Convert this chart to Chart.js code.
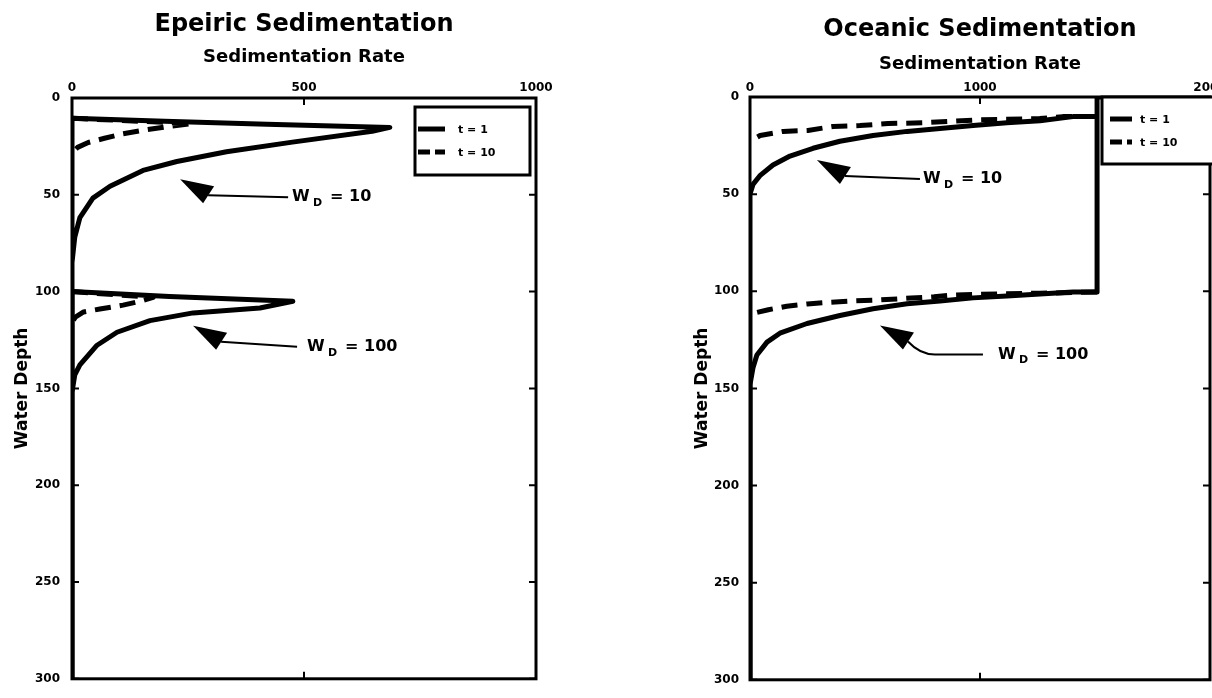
<!DOCTYPE html>
<html>
<head>
<meta charset="utf-8">
<script src="https://cdn.jsdelivr.net/npm/chart.js@4.4.0/dist/chart.umd.min.js"></script>
<style>
  html, body { margin: 0; padding: 0; background: #fff; overflow: hidden; }
  #left { position: absolute; left: 0; top: 0; }
  #right { position: absolute; left: 680px; top: 0; }
</style>
</head>
<body>
<canvas id="left" width="560" height="698"></canvas>
<canvas id="right" width="560" height="698"></canvas>
<script>
const depthTicks = [0, 50, 100, 150, 200, 250, 300];
const legendLabels = ["t = 1", "t = 10"];
const waveBases = [10, 100];

// epeiric panel
const epeiricRateTicks = [0, 500, 1000];
const epi10Rate1 = [0, 0, 200, 420, 685, 647, 475, 333, 226, 153, 82, 45, 17, 6, 0];
const epi10Depth1 = [300, 10.5, 12, 13.5, 15.2, 17.2, 22.8, 27.8, 32.8, 37.4, 45.6, 51.7, 61.8, 71.8, 85];
const epi10Rate10 = [0, 260, 200, 150, 110, 70, 35, 12, 0];
const epi10Depth10 = [10.5, 13.2, 15, 16.8, 18.5, 20.8, 23, 25.5, 28.5];
const epi100Rate1 = [0, 0, 210, 476, 405, 261, 168, 97, 54, 17, 6, 0];
const epi100Depth1 = [300, 100, 102.5, 105, 108.5, 111, 115, 121, 127.7, 137.9, 143, 152];
const epi100Rate10 = [0, 175, 150, 110, 60, 25, 8, 0];
const epi100Depth10 = [100, 103, 104.8, 107, 109, 110.5, 113, 116];

// oceanic panel
const oceanicRateTicks = [0, 1000, 2000];
const oce10Rate1 = [1509, 1404, 1261, 1117, 970, 826, 683, 535, 391, 274, 174, 100, 43, 13, 0, 0];
const oce10Depth1 = [10, 10.1, 12.2, 13.2, 14.7, 16.2, 17.7, 19.8, 22.8, 26.4, 30.4, 35, 40.5, 45, 50, 300];
const oce10Rate10 = [1509, 1360, 1260, 1000, 760, 600, 478, 360, 252, 144, 44, 0];
const oce10Depth10 = [10, 10.1, 11.1, 11.7, 13.2, 13.7, 14.7, 15.2, 17.2, 17.7, 19.8, 22.8];
const oce100Rate1 = [2000, 1509, 1509, 1404, 1261, 1117, 970, 826, 683, 535, 391, 248, 130, 74, 30, 13, 0, 0];
const oce100Depth1 = [0, 0, 100.4, 100.4, 101.4, 102.4, 103.4, 105, 106.4, 109, 112.5, 116.6, 121.6, 126.2, 132.8, 139.4, 148, 300];
const oce100Rate10 = [1509, 1261, 1000, 880, 800, 700, 560, 450, 330, 250, 160, 80, 25, 0];
const oce100Depth10 = [100.4, 101, 101.5, 102, 102.8, 103.5, 104.5, 105, 105.8, 106.5, 107.7, 109.5, 111, 113];

// where the W_D arrows point (rate, depth)
const epiNoteRate = [233, 261];
const epiNoteDepth = [42, 117.6];
const oceNoteRate = [291, 565];
const oceNoteDepth = [32.4, 117.6];

Chart.defaults.font.family = "'DejaVu Sans', sans-serif";
Chart.defaults.font.weight = "bold";
Chart.defaults.color = "#000";

const pts = (rate, depth) => rate.map((r, i) => ({ x: r, y: depth[i] }));

function series(label, rate, depth, dashed) {
  return {
    label: label,
    data: pts(rate, depth),
    showLine: true,
    borderColor: "#000",
    backgroundColor: "#000",
    borderWidth: 5,
    borderJoinStyle: "round",
    borderDash: dashed ? [16, 9] : [],
    pointRadius: 0,
    tension: 0,
  };
}

const framePlugin = {
  id: "frame",
  beforeDatasetsDraw(chart) {
    const { ctx, chartArea: a, scales: { x, y } } = chart;
    ctx.save();
    ctx.strokeStyle = "#000";
    ctx.lineWidth = 3;
    ctx.strokeRect(a.left, a.top, a.right - a.left, a.bottom - a.top);
    ctx.lineWidth = 2;
    ctx.beginPath();
    x.ticks.forEach((t) => {
      const px = x.getPixelForValue(t.value);
      ctx.moveTo(px, a.top);
      ctx.lineTo(px, a.top + 7);
      ctx.moveTo(px, a.bottom);
      ctx.lineTo(px, a.bottom - 7);
    });
    y.ticks.forEach((t) => {
      const py = y.getPixelForValue(t.value);
      ctx.moveTo(a.left, py);
      ctx.lineTo(a.left + 7, py);
      ctx.moveTo(a.right, py);
      ctx.lineTo(a.right - 7, py);
    });
    ctx.stroke();
    ctx.restore();
  },
};

function extrasPlugin(box, notes) {
  return {
    id: "extras",
    afterDraw(chart) {
      const { ctx, chartArea: a, scales: { x, y } } = chart;
      ctx.save();
      // legend
      const bx = a.right + box.dx, by = a.top + box.dy;
      ctx.fillStyle = "#fff";
      ctx.fillRect(bx, by, box.w, box.h);
      ctx.strokeStyle = "#000";
      ctx.lineWidth = 3;
      ctx.strokeRect(bx, by, box.w, box.h);
      ctx.font = "bold 11px 'DejaVu Sans'";
      ctx.fillStyle = "#000";
      ctx.textBaseline = "middle";
      legendLabels.forEach((lab, i) => {
        const ly = by + box.rowY[i];
        ctx.lineWidth = 5;
        ctx.setLineDash(i === 0 ? [] : [12, 5]);
        ctx.beginPath();
        ctx.moveTo(bx + box.sx0, ly);
        ctx.lineTo(bx + box.sx1, ly);
        ctx.stroke();
        ctx.setLineDash([]);
        ctx.fillText(lab, bx + box.tx, ly + 1);
      });
      // W_D arrows
      notes.forEach((n) => {
        const px = x.getPixelForValue(n.rate);
        const py = y.getPixelForValue(n.depth);
        ctx.beginPath();
        ctx.moveTo(px, py);
        ctx.lineTo(px + 34, py + 7);
        ctx.lineTo(px + 23, py + 24);
        ctx.closePath();
        ctx.fill();
        ctx.lineWidth = 2;
        ctx.beginPath();
        ctx.moveTo(px + 28, py + 16);
        if (n.curve) {
          ctx.quadraticCurveTo(px + 40, py + n.ty, px + 55, py + n.ty);
        }
        ctx.lineTo(px + n.lineEnd, py + n.ty);
        ctx.stroke();
        const tx = px + n.tx;
        ctx.textBaseline = "middle";
        ctx.font = "bold 16px 'DejaVu Sans'";
        ctx.fillText("W", tx, py + n.ty);
        ctx.font = "bold 11px 'DejaVu Sans'";
        ctx.fillText("D", tx + 21, py + n.ty + 6);
        ctx.font = "bold 16px 'DejaVu Sans'";
        ctx.fillText("= " + n.label, tx + 38, py + n.ty);
      });
      ctx.restore();
    },
  };
}

function makeChart(id, opts) {
  const ctx = document.getElementById(id).getContext("2d");
  return new Chart(ctx, {
    type: "scatter",
    data: { datasets: opts.datasets },
    options: {
      responsive: false,
      animation: false,
      layout: { padding: { left: 0, right: opts.padRight, top: 0, bottom: 8 } },
      plugins: {
        legend: { display: false },
        tooltip: { enabled: false },
        title: {
          display: true,
          text: opts.title,
          fullSize: false,
          font: { size: 24, weight: "bold" },
          padding: { top: opts.titleTop, bottom: 4 },
        },
      },
      scales: {
        x: {
          type: "linear",
          position: "top",
          min: 0,
          max: opts.rateTicks[opts.rateTicks.length - 1],
          afterBuildTicks: (s) => { s.ticks = opts.rateTicks.map((v) => ({ value: v })); },
          afterFit: (s) => { s.height = opts.xHeight; },
          grid: { display: false, drawTicks: false },
          border: { display: false },
          ticks: {
            font: { size: 12, weight: "bold" },
            padding: opts.xTickPad,
            maxRotation: 0,
            callback: (v) => String(v),
          },
          title: {
            display: true,
            text: "Sedimentation Rate",
            font: { size: 18, weight: "bold" },
            padding: { top: opts.xTitleTop, bottom: 0 },
          },
        },
        y: {
          type: "linear",
          reverse: true,
          min: 0,
          max: 300,
          afterBuildTicks: (s) => { s.ticks = depthTicks.map((v) => ({ value: v })); },
          afterFit: (s) => { s.width = opts.yWidth; },
          grid: { display: false, drawTicks: false },
          border: { display: false },
          ticks: {
            font: { size: 12, weight: "bold" },
            padding: opts.yTickPad,
            callback: (v) => String(v),
          },
          title: {
            display: true,
            text: "Water Depth",
            font: { size: 17, weight: "bold" },
            padding: { top: 12, bottom: 0 },
          },
        },
      },
    },
    plugins: [framePlugin, extrasPlugin(opts.box, opts.notes)],
  });
}

makeChart("left", {
  title: "Epeiric Sedimentation",
  rateTicks: epeiricRateTicks,
  padRight: 24,
  titleTop: 10,
  xHeight: 55.2,
  xTitleTop: 4,
  xTickPad: 3,
  yWidth: 72,
  yTickPad: 12,
  datasets: [
    series(legendLabels[0], epi10Rate1, epi10Depth1, false),
    series(legendLabels[1], epi10Rate10, epi10Depth10, true),
    series(legendLabels[0], epi100Rate1, epi100Depth1, false),
    series(legendLabels[1], epi100Rate10, epi100Depth10, true),
  ],
  box: { dx: -121, dy: 9, w: 115, h: 68, rowY: [22, 45], sx0: 3, sx1: 30, tx: 43 },
  notes: [
    { rate: epiNoteRate[0], depth: epiNoteDepth[0], label: waveBases[0], ty: 18, lineEnd: 108, tx: 112 },
    { rate: epiNoteRate[1], depth: epiNoteDepth[1], label: waveBases[1], ty: 21, lineEnd: 104, tx: 114 },
  ],
});

makeChart("right", {
  title: "Oceanic Sedimentation",
  rateTicks: oceanicRateTicks,
  padRight: 30,
  titleTop: 15,
  xHeight: 49.2,
  xTitleTop: 6,
  xTickPad: 2,
  yWidth: 70,
  yTickPad: 11,
  datasets: [
    series(legendLabels[0], oce10Rate1, oce10Depth1, false),
    series(legendLabels[1], oce10Rate10, oce10Depth10, true),
    series(legendLabels[0], oce100Rate1, oce100Depth1, false),
    series(legendLabels[1], oce100Rate10, oce100Depth10, true),
  ],
  box: { dx: -108, dy: 0, w: 140, h: 67, rowY: [22, 45], sx0: 8, sx1: 30, tx: 38 },
  notes: [
    { rate: oceNoteRate[0], depth: oceNoteDepth[0], label: waveBases[0], ty: 19, lineEnd: 103, tx: 106 },
    { rate: oceNoteRate[1], depth: oceNoteDepth[1], label: waveBases[1], ty: 29, lineEnd: 103, tx: 118, curve: true },
  ],
});
</script>
</body>
</html>
